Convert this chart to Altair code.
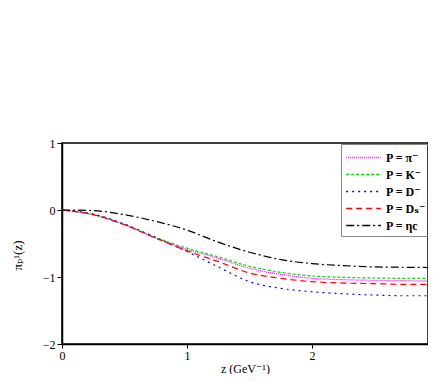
import altair as alt
import pandas as pd

z = [0, 0.25, 0.5, 0.75, 1.0, 1.25, 1.5, 1.75, 2.0, 2.25, 2.5, 2.75, 3.0]
pi_vals = [0, -0.07, -0.22, -0.42, -0.59, -0.72, -0.87, -0.96, -1.02, -1.04, -1.05, -1.055, -1.06]
k_vals = [0, -0.07, -0.22, -0.41, -0.57, -0.70, -0.84, -0.93, -0.985, -1.005, -1.015, -1.02, -1.02]
d_vals = [0, -0.06, -0.21, -0.41, -0.62, -0.85, -1.07, -1.17, -1.22, -1.25, -1.27, -1.28, -1.28]
ds_vals = [0, -0.07, -0.22, -0.42, -0.61, -0.77, -0.94, -1.02, -1.07, -1.09, -1.10, -1.11, -1.11]
eta_vals = [0, -0.01, -0.07, -0.17, -0.30, -0.48, -0.63, -0.74, -0.80, -0.83, -0.85, -0.855, -0.86]

names = ["P = π⁻", "P = K⁻", "P = D⁻", "P = Dₛ⁻", "P = ηc"]
colors = ["#ff00ff", "#00dd00", "#0000ff", "#ff0000", "#000000"]
dashes = [[1, 1], [3, 2], [2, 4], [6, 4], [8, 3, 2, 3]]

rows = []
for name, vals in zip(names, [pi_vals, k_vals, d_vals, ds_vals, eta_vals]):
    for zz, v in zip(z, vals):
        rows.append({"z": zz, "v": v, "series": name})
df = pd.DataFrame(rows)

font = "'Liberation Serif', 'DejaVu Serif', serif"

chart = alt.Chart(df).mark_line(strokeWidth=1.2, interpolate="monotone", clip=True).encode(
    x=alt.X("z:Q", scale=alt.Scale(domain=[0, 2.928], nice=False),
            axis=alt.Axis(values=[0, 1, 2], title="z (GeV⁻¹)", grid=False,
                          tickSize=4, labelFlush=False, titlePadding=2, titleFontSize=12)),
    y=alt.Y("v:Q", scale=alt.Scale(domain=[-2, 1], nice=False),
            axis=alt.Axis(values=[-2, -1, 0, 1], title="πₚ¹(z)", grid=False,
                          tickSize=5, titleAngle=-90, titlePadding=18, titleY=112)),
    color=alt.Color("series:N", scale=alt.Scale(domain=names, range=colors),
                    legend=alt.Legend(title=None, orient="none", legendX=279, legendY=1,
                                      symbolType="M-2,0H2", symbolSize=300,
                                      symbolOffset=9,
                                      labelFont=font, labelFontSize=12, labelFontWeight="bold",
                                      strokeColor="#888888", padding=4, rowPadding=1,
                                      symbolStrokeWidth=1.3, labelOffset=13)),
    strokeDash=alt.StrokeDash("series:N", scale=alt.Scale(domain=names, range=dashes),
                              legend=None),
).properties(
    width=366, height=201,
    padding={"left": 54, "top": 135, "right": 0, "bottom": 30},
    autosize=alt.AutoSizeParams(type="none"),
).configure_view(
    stroke="#000000", strokeWidth=1.5
).configure_axis(
    domainColor="#000000", tickColor="#000000", domainWidth=1.5,
    labelFont=font, titleFont=font, labelFontSize=12, titleFontSize=13,
    labelColor="#000000", titleColor="#000000", titleFontWeight="normal",
)

chart.save("out.html", embed_options={"renderer": "svg", "actions": False})
